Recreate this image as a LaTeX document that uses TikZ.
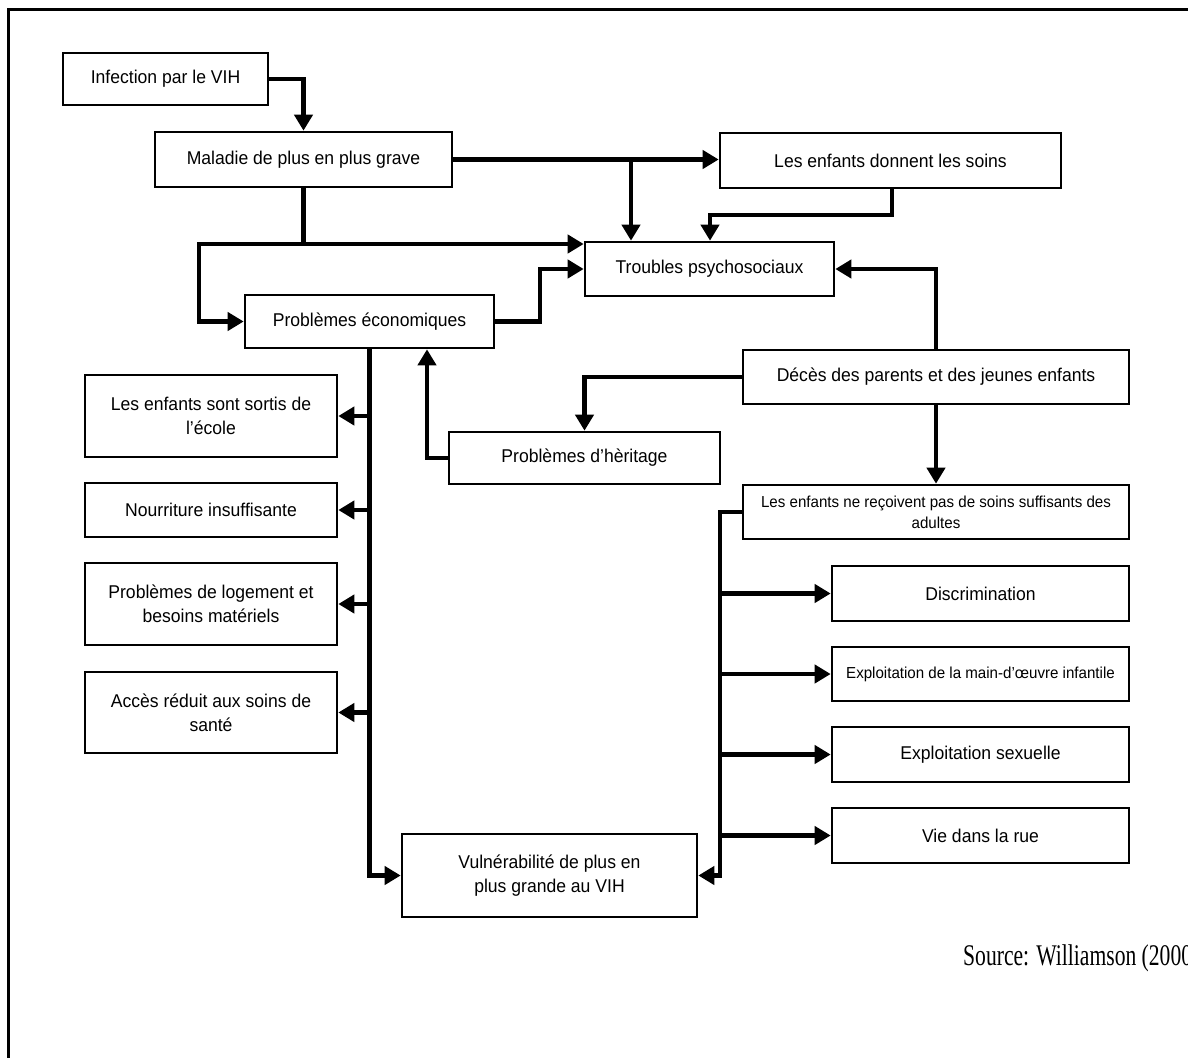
\documentclass[tikz,border=0pt]{standalone}
\usepackage{fontspec}
\usetikzlibrary{arrows.meta}
\newfontfamily\boxfont{Liberation Sans}[FakeStretch=0.95]
\newfontfamily\srcfont{Liberation Serif}[FakeStretch=0.72]
\begin{document}
\begin{tikzpicture}[x=1pt,y=-1pt,
  box/.style={draw, line width=2.6pt, inner sep=0pt, align=center,
    font=\boxfont\fontsize{18.5}{24}\selectfont},
  smallbox/.style={box, font=\boxfont\fontsize{15.9}{21}\selectfont},
  conn/.style={line width=4.5pt, -{Triangle[length=16pt,width=18pt]}},
  wire/.style={line width=4.5pt}]
\useasboundingbox (0,0) rectangle (1188,1057);
\clip (0,0) rectangle (1188,1057);
\fill[white] (0,0) rectangle (1188,1057);
\draw[line width=3pt] (8,10) rectangle (1250,1120);

% nodes
\node[box, minimum width=205pt, minimum height=52pt] (inf) at (165.5,79) {Infection par le VIH};
\node[box, minimum width=297pt, minimum height=55pt] (mal) at (303.5,159.5) {Maladie de plus en plus grave};
\node[box, minimum width=341pt, minimum height=55pt] (enfdon) at (890.5,160.5) {Les enfants donnent les soins};
\node[box, minimum width=249pt, minimum height=54pt] (troub) at (709.5,269) {Troubles psychosociaux};
\node[box, minimum width=249pt, minimum height=53pt] (eco) at (369.5,321.5) {Problèmes économiques};
\node[box, minimum width=386pt, minimum height=54pt] (deces) at (936,377) {Décès des parents et des jeunes enfants};
\node[box, minimum width=271pt, minimum height=52pt] (herit) at (584.5,458) {Problèmes d’hèritage};
\node[smallbox, minimum width=386pt, minimum height=54pt] (recoiv) at (936,512) {Les enfants ne reçoivent pas de soins suffisants des\\adultes};
\node[box, minimum width=252pt, minimum height=82pt] (sortis) at (211,416) {Les enfants sont sortis de\\l’école};
\node[box, minimum width=252pt, minimum height=54pt] (nourr) at (211,510) {Nourriture insuffisante};
\node[box, minimum width=252pt, minimum height=82pt] (logem) at (211,604) {Problèmes de logement et\\besoins matériels};
\node[box, minimum width=252pt, minimum height=81pt] (acces) at (211,712.5) {Accès réduit aux soins de\\santé};
\node[box, minimum width=297pt, minimum height=55pt] (discr) at (980.5,593.5) {Discrimination};
\node[smallbox, minimum width=297pt, minimum height=54pt] (explm) at (980.5,674) {Exploitation de la main-d’œuvre infantile};
\node[box, minimum width=297pt, minimum height=55pt] (explsex) at (980.5,754.5) {Exploitation sexuelle};
\node[box, minimum width=297pt, minimum height=55pt] (vie) at (980.5,835.5) {Vie dans la rue};
\node[box, minimum width=295pt, minimum height=83pt] (vuln) at (549.5,875.5) {Vulnérabilité de plus en\\plus grande au VIH};
\node[anchor=base west, inner sep=0pt, font=\srcfont\fontsize{30}{36}\selectfont] (src) at (963,965) {Source: Williamson (2000)};

% junction coordinates
\coordinate (jA) at (303.5,244);
\coordinate (jB) at (631,159.5);
\coordinate (jC) at (892,215);
\coordinate (jD) at (710,215);
\coordinate (jE) at (199,244);
\coordinate (jF) at (540,0);
\coordinate (jG) at (427,0);
\coordinate (jH) at (369.5,0);
\coordinate (jI) at (720,0);

% connectors
\draw[conn] (inf.east) -| (mal.north);
\draw[conn] (mal.east) -- (mal.east -| enfdon.west);
\draw[conn] (jB) -- (jB |- troub.north);
\draw[conn] (jC |- enfdon.south) -- (jC) -- (jD) -- (jD |- troub.north);
\draw[conn] (mal.south) -- (jA) -- (jA -| troub.west);
\draw[conn] (jA) -- (jE) |- (eco.west);
\draw[conn] (eco.east) -- (eco.east -| jF) |- (troub.west);
\draw[conn] (deces.north) |- (troub.east);
\draw[conn] (deces.west) -| (herit.north);
\draw[conn] (deces.south) -- (recoiv.north);
\draw[conn] (herit.west) -| (jG |- eco.south);
\draw[conn] (eco.south) |- (vuln.west);
\foreach \n in {sortis,nourr,logem,acces} \draw[conn] (jH |- \n.east) -- (\n.east);
\draw[conn] (recoiv.west) -- (recoiv.west -| jI) |- (vuln.east);
\foreach \n in {discr,explm,explsex,vie} \draw[conn] (jI |- \n.west) -- (\n.west);
\end{tikzpicture}
\end{document}
